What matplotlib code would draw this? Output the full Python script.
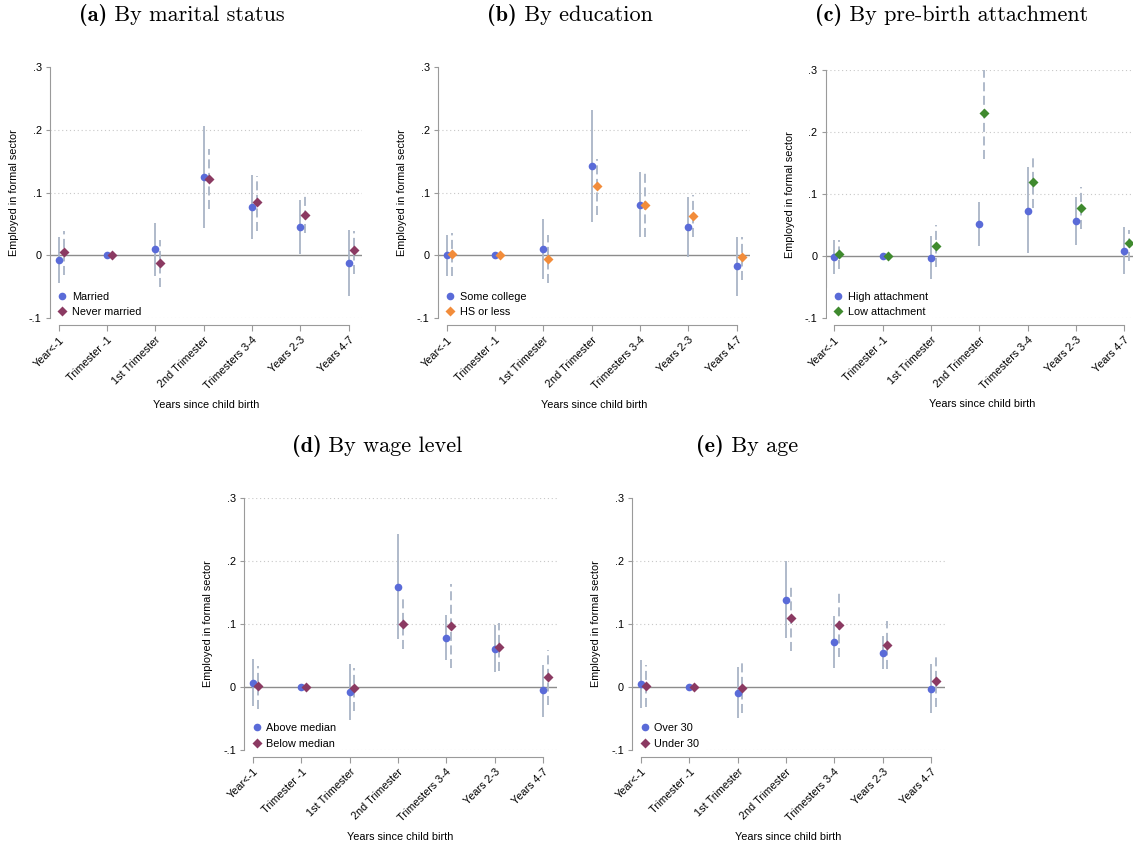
import numpy as np
import matplotlib
matplotlib.use("Agg")
import matplotlib.pyplot as plt
from matplotlib.lines import Line2D

plt.rcParams['font.family'] = ['Liberation Sans', 'DejaVu Sans']

categories = ["Year<-1", "Trimester -1", "1st Trimester", "2nd Trimester",
              "Trimesters 3-4", "Years 2-3", "Years 4-7"]
nan = np.nan

# (a) marital status
married = [-0.008, 0.0, 0.010, 0.125, 0.077, 0.045, -0.012]
married_lo = [-0.044, nan, -0.033, 0.043, 0.026, 0.002, -0.064]
married_hi = [0.029, nan, 0.052, 0.205, 0.128, 0.088, 0.040]
never = [0.005, 0.0, -0.012, 0.121, 0.085, 0.065, 0.008]
never_lo = [-0.031, nan, -0.050, 0.074, 0.038, 0.036, -0.029]
never_hi = [0.038, nan, 0.025, 0.169, 0.126, 0.094, 0.039]

# (b) education
college = [0.0, 0.0, 0.010, 0.142, 0.080, 0.045, -0.017]
college_lo = [-0.032, nan, -0.037, 0.053, 0.029, -0.003, -0.064]
college_hi = [0.033, nan, 0.058, 0.231, 0.132, 0.093, 0.030]
hs = [0.002, 0.0, -0.006, 0.111, 0.080, 0.062, -0.002]
hs_lo = [-0.032, nan, -0.044, 0.065, 0.030, 0.029, -0.039]
hs_hi = [0.036, nan, 0.032, 0.153, 0.131, 0.096, 0.029]

# (c) pre-birth attachment
high_att = [-0.002, 0.0, -0.003, 0.052, 0.073, 0.057, 0.009]
high_att_lo = [-0.029, nan, -0.036, 0.016, 0.005, 0.018, -0.029]
high_att_hi = [0.026, nan, 0.032, 0.088, 0.143, 0.096, 0.047]
low_att = [0.003, 0.0, 0.016, 0.231, 0.120, 0.078, 0.021]
low_att_lo = [-0.021, nan, -0.018, 0.157, 0.077, 0.044, -0.007]
low_att_hi = [0.026, nan, 0.050, 0.300, 0.163, 0.112, 0.042]

# (d) wage level
above = [0.007, 0.0, -0.008, 0.159, 0.078, 0.060, -0.005]
above_lo = [-0.031, nan, -0.053, 0.076, 0.042, 0.023, -0.047]
above_hi = [0.045, nan, 0.037, 0.242, 0.114, 0.098, 0.035]
below = [0.002, 0.0, -0.002, 0.099, 0.096, 0.063, 0.016]
below_lo = [-0.035, nan, -0.038, 0.060, 0.030, 0.025, -0.029]
below_hi = [0.033, nan, 0.030, 0.139, 0.163, 0.101, 0.058]

# (e) age
over30 = [0.005, 0.0, -0.010, 0.138, 0.071, 0.054, -0.003]
over30_lo = [-0.033, nan, -0.050, 0.078, 0.030, 0.028, -0.041]
over30_hi = [0.042, nan, 0.031, 0.199, 0.112, 0.081, 0.037]
under30 = [0.002, 0.0, -0.001, 0.110, 0.098, 0.067, 0.009]
under30_lo = [-0.032, nan, -0.041, 0.057, 0.048, 0.028, -0.032]
under30_hi = [0.035, nan, 0.040, 0.161, 0.149, 0.104, 0.049]

blue = "#5a6bd8"
maroon = "#8b3a62"
orange = "#f28c3a"
green = "#3f8a2e"
ci_col = "#a9b4c6"
axis_col = "#9a9a9a"

W, H = 1133, 848
fig = plt.figure(figsize=(W / 100, H / 100), dpi=100)

spacing = 48.33
panel_w = spacing * 6.46
fs = 7.8

def px_axes(left, top, bottom):
    return fig.add_axes([left / W, 1 - bottom / H, panel_w / W, (bottom - top) / H])

def panel(ax, s1, s2, names, col2, grid_top=True):
    x = np.arange(len(categories))
    ax.set_xlim(-0.18, 6.28)
    ax.set_ylim(-0.1, 0.3)
    grid_vals = [-0.1, 0.1, 0.2] + ([0.3] if grid_top else [])
    for g in grid_vals:
        ax.axhline(g, color="#c8c8c8", lw=0.8, ls=(0, (1, 2.5)), zorder=0)
    ax.axhline(0, color="#8c8c8c", lw=1.0, zorder=1)
    est1, lo1, hi1 = s1
    est2, lo2, hi2 = s2
    ax.vlines(x, lo1, hi1, color=ci_col, lw=1.3, zorder=2)
    ax.vlines(x + 0.1, lo2, hi2, color=ci_col, lw=1.3, linestyles=(0, (5, 2.5)), zorder=2)
    ax.plot(x, est1, 'o', color=blue, ms=5.5, mec='none', zorder=3)
    ax.plot(x + 0.1, est2, 'D', color=col2, ms=5.2, mec='none', zorder=3)

    for s in ['top', 'right']:
        ax.spines[s].set_visible(False)
    ax.spines['left'].set_color(axis_col)
    ax.spines['bottom'].set_color(axis_col)
    ax.spines['left'].set_linewidth(0.8)
    ax.spines['bottom'].set_linewidth(0.8)
    ax.spines['bottom'].set_position(('outward', 5))
    ax.spines['bottom'].set_bounds(0, 6)

    ax.set_yticks([-0.1, 0, 0.1, 0.2, 0.3])
    ax.set_yticklabels(["-.1", "0", ".1", ".2", ".3"], fontsize=fs)
    ax.set_xticks(x)
    ax.set_xticklabels(categories, fontsize=fs, rotation=45, ha='right',
                       va='top', rotation_mode='anchor')
    ax.tick_params(axis='y', length=3, width=0.8, color=axis_col, pad=3)
    ax.tick_params(axis='x', length=4, width=0.8, color=axis_col, pad=3)

    ax.text(-36 / panel_w, 0.5, "Employed in formal sector", transform=ax.transAxes,
            rotation=90, ha='center', va='center', fontsize=fs)
    ax.text(0.5, -0.345, "Years since child birth", transform=ax.transAxes,
            ha='center', va='center', fontsize=fs)

    handles = [Line2D([], [], ls='none', marker='o', color=blue, ms=5.5, mec='none'),
               Line2D([], [], ls='none', marker='D', color=col2, ms=5.2, mec='none')]
    leg = ax.legend(handles, names, loc='lower left', bbox_to_anchor=(0.005, -0.012),
                    fontsize=fs, frameon=True, handletextpad=0.3, handlelength=1.2,
                    labelspacing=0.5, borderpad=0.4, borderaxespad=0)
    leg.get_frame().set_facecolor('white')
    leg.get_frame().set_edgecolor('none')
    leg.get_frame().set_alpha(1)

ax_a = px_axes(50, 66.7, 318.3)
panel(ax_a, (married, married_lo, married_hi), (never, never_lo, never_hi),
      ["Married", "Never married"], maroon, grid_top=False)
ax_b = px_axes(438, 66.7, 318.3)
panel(ax_b, (college, college_lo, college_hi), (hs, hs_lo, hs_hi),
      ["Some college", "HS or less"], orange, grid_top=False)
ax_c = px_axes(825.7, 70, 318.3)
panel(ax_c, (high_att, high_att_lo, high_att_hi), (low_att, low_att_lo, low_att_hi),
      ["High attachment", "Low attachment"], green)
ax_d = px_axes(244.3, 497.7, 750)
panel(ax_d, (above, above_lo, above_hi), (below, below_lo, below_hi),
      ["Above median", "Below median"], maroon)
ax_e = px_axes(632.3, 497.7, 750)
panel(ax_e, (over30, over30_lo, over30_hi), (under30, under30_lo, under30_hi),
      ["Over 30", "Under 30"], maroon, grid_top=False)

# panel titles: bold tag in cmb10, rest in cmr10, centred as one piece
titles = [(182, 15, "(a)", "By marital status"),
          (570, 15, "(b)", "By education"),
          (952, 15, "(c)", "By pre-birth attachment"),
          (377, 446, "(d)", "By wage level"),
          (747, 446, "(e)", "By age")]
renderer = fig.canvas.get_renderer()
for tx, ty, tag, rest in titles:
    t1 = fig.text(0, 1 - ty / H, tag, ha='left', va='center', fontsize=16, family='cmb10')
    t2 = fig.text(0, 1 - ty / H, " " + rest, ha='left', va='center', fontsize=16, family='cmr10')
    w1 = t1.get_window_extent(renderer).width
    w2 = t2.get_window_extent(renderer).width
    x0 = tx - (w1 + w2) / 2
    t1.set_x(x0 / W)
    t2.set_x((x0 + w1) / W)

fig.savefig("out.png", dpi=100)
